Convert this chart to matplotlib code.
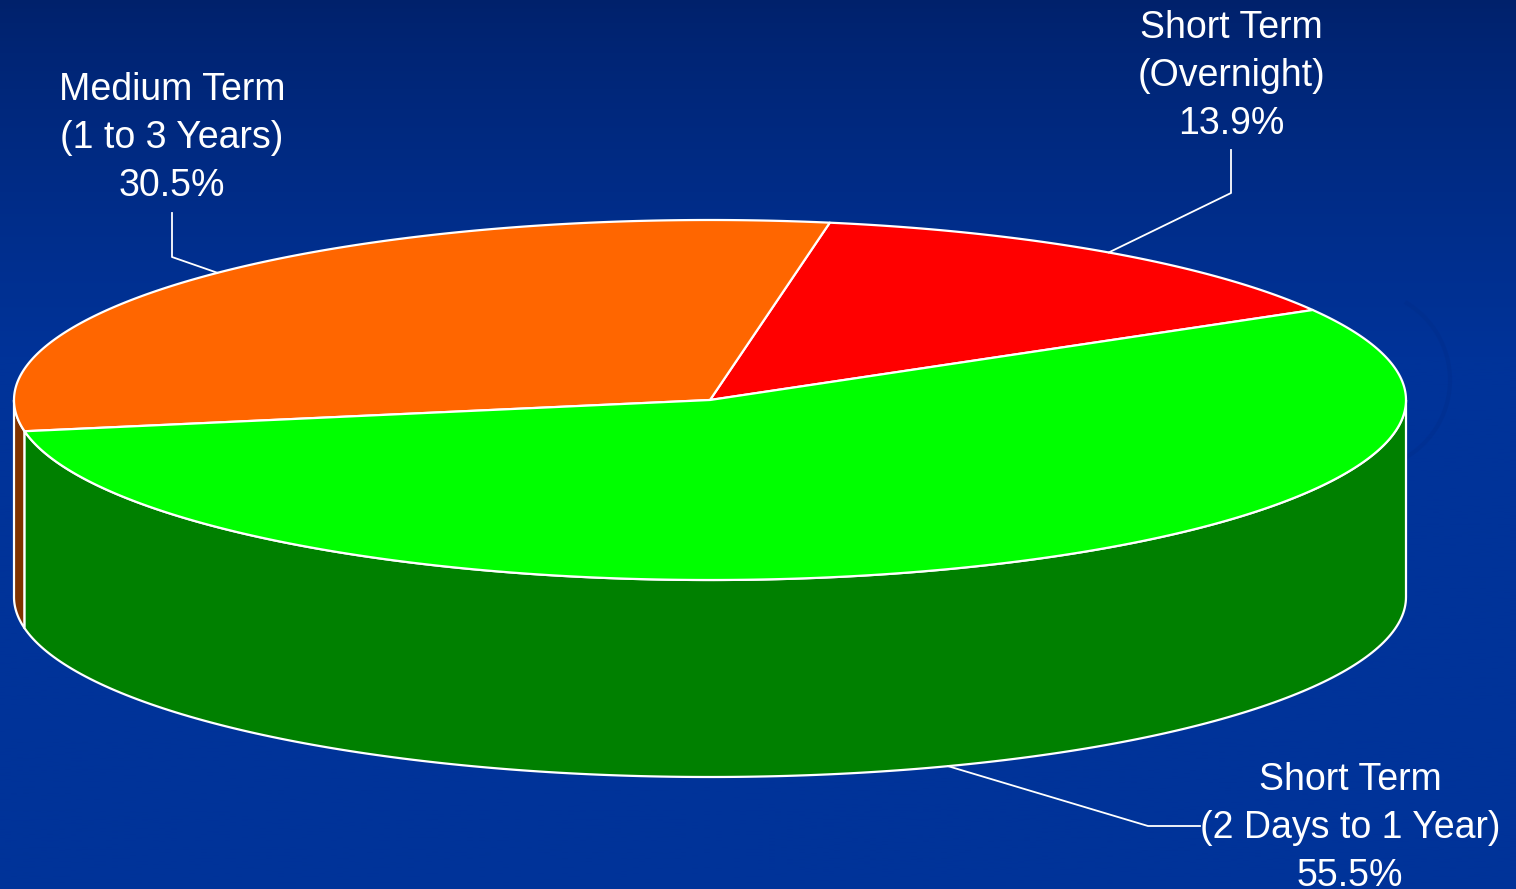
import numpy as np
import matplotlib.pyplot as plt
from matplotlib.patches import Polygon, Arc

# data (counter-clockwise from the right-hand edge of the red slice)
labels = ['Short Term\n(Overnight)', 'Medium Term\n(1 to 3 Years)', 'Short Term\n(2 Days to 1 Year)']
shares = [13.9, 30.5, 55.5]
top_colors = ['#ff0000', '#ff6600', '#00ff00']
side_colors = ['#800000', '#7f3300', '#008000']
label_pos = [(1231, 38), (172, 100), (1350, 790)]      # baseline of first line
knee_pts = [(1231, 193), (172, 257), (1148, 826)]
knee2_pts = [(1231, 150), (172, 213), (1200, 826)]

# geometry of the 3d pie in pixel units
W, H = 1516, 889
cx, cy, ra, rb, depth = 710, 400, 696, 180, 197
start = 30.0  # degrees


def ell(t, dz=0.0):
    t = np.radians(t)
    return np.column_stack([cx + ra * np.cos(t), cy - rb * np.sin(t) + dz])


fig = plt.figure(figsize=(W / 100, H / 100), dpi=100)
ax = fig.add_axes([0, 0, 1, 1])
ax.set_xlim(0, W)
ax.set_ylim(H, 0)
ax.axis('off')

# background gradient
ys = np.linspace(0, 1, 300)
f = np.clip(ys / 0.4, 0, 1) ** 0.8
top_c = np.array([0.0, 0.13, 0.42])
bot_c = np.array([0.0, 0.2, 0.6])
grad = top_c[None, :] * (1 - f[:, None]) + bot_c[None, :] * f[:, None]
ax.imshow(grad[:, None, :], extent=[0, W, H, 0], aspect='auto', zorder=0)

# faint swirls on the background
for (x0, y0, w, h, t1, t2, lw) in [(1500, 1000, 1200, 560, 95, 175, 10),
                                   (1600, 1000, 900, 420, 100, 170, 8),
                                   (1560, 820, 1000, 300, 95, 150, 6),
                                   (1360, 380, 180, 180, 300, 60, 3)]:
    ax.add_patch(Arc((x0, y0), w, h, theta1=t1, theta2=t2, color='#002c88',
                     lw=lw, alpha=0.35, zorder=0.5))

fracs = np.array(shares) / sum(shares)
bounds = start + 360 * np.concatenate([[0], np.cumsum(fracs)])

# side walls (front half only, 180..360)
for i in range(len(shares)):
    a0, a1 = bounds[i], bounds[i + 1]
    for off in (0, 360, -360):
        lo, hi = max(a0 + off, 180), min(a1 + off, 360)
        if hi > lo:
            tt = np.linspace(lo, hi, 200)
            pts = np.vstack([ell(tt), ell(tt[::-1], depth)])
            ax.add_patch(Polygon(pts, closed=True, fc=side_colors[i], ec='white',
                                 lw=1.6, joinstyle='round', zorder=2))

# top faces
for i in range(len(shares)):
    tt = np.linspace(bounds[i], bounds[i + 1], 300)
    pts = np.vstack([[cx, cy], ell(tt)])
    ax.add_patch(Polygon(pts, closed=True, fc=top_colors[i], ec='white',
                         lw=1.6, joinstyle='round', zorder=3))

# labels and leader lines
for i in range(len(shares)):
    mid = (bounds[i] + bounds[i + 1]) / 2
    dz = depth if 180 < (mid % 360) < 360 else 0
    ax0, ay0 = ell(mid, dz)[0]
    xs = [ax0, knee_pts[i][0], knee2_pts[i][0]]
    ys_ = [ay0, knee_pts[i][1], knee2_pts[i][1]]
    ax.plot(xs, ys_, color='white', lw=1.3, zorder=4)
    lines = labels[i].split('\n') + ['%.1f%%' % shares[i]]
    lx, ly = label_pos[i]
    for k, s in enumerate(lines):
        ax.text(lx, ly + 48 * k, s, color='white', fontsize=27,
                family='Liberation Sans', ha='center', va='baseline', zorder=5)

fig.savefig('out.png', dpi=100)
